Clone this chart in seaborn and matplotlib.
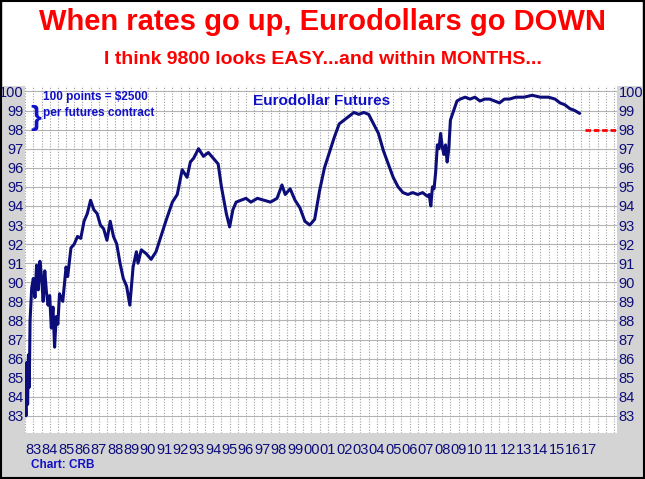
import matplotlib
matplotlib.use("Agg")
import matplotlib.pyplot as plt
import seaborn as sns
import pandas as pd
from matplotlib.patches import Rectangle

# approximate Eurodollar futures price
years = [1983.0, 1983.05, 1983.1, 1983.15, 1983.2, 1983.25, 1983.3, 1983.4, 1983.5, 1983.6, 1983.7,
         1983.8, 1983.9, 1984.0, 1984.1, 1984.2, 1984.3, 1984.4, 1984.5, 1984.6, 1984.7, 1984.8,
         1984.9, 1985.0, 1985.1, 1985.3, 1985.5, 1985.6, 1985.8, 1986.0, 1986.2, 1986.4, 1986.6,
         1986.8, 1987.0, 1987.2, 1987.4, 1987.6, 1987.8, 1988.0, 1988.2, 1988.4, 1988.6, 1988.8,
         1989.0, 1989.2, 1989.4, 1989.6, 1989.8, 1989.9, 1990.1, 1990.4, 1990.7, 1991.0, 1991.3,
         1991.6, 1992.0, 1992.3, 1992.6, 1992.9, 1993.1, 1993.3, 1993.6, 1993.9, 1994.2, 1994.5,
         1994.8, 1995.0, 1995.3, 1995.5, 1995.7, 1995.9, 1996.2, 1996.5, 1996.8, 1997.2, 1997.6,
         1998.0, 1998.4, 1998.7, 1998.9, 1999.2, 1999.5, 1999.8, 2000.1, 2000.4, 2000.7, 2001.0,
         2001.3, 2001.6, 2001.9, 2002.2, 2002.5, 2002.8, 2003.1, 2003.4, 2003.7, 2004.0, 2004.3,
         2004.6, 2004.9, 2005.2, 2005.5, 2005.8, 2006.1, 2006.4, 2006.7, 2007.0, 2007.3, 2007.6,
         2007.7, 2007.8, 2007.9, 2008.0, 2008.1, 2008.2, 2008.3, 2008.4, 2008.5, 2008.6, 2008.7,
         2008.8, 2008.9, 2009.0, 2009.2, 2009.4, 2009.6, 2009.9, 2010.2, 2010.5, 2010.8, 2011.1,
         2011.4, 2011.7, 2012.0, 2012.3, 2012.6, 2013.0, 2013.5, 2014.0, 2014.5, 2015.0, 2015.4,
         2015.7, 2016.0, 2016.3, 2016.6, 2016.9]
prices = [84.5, 83.0, 85.8, 83.6, 86.2, 84.5, 88.0, 89.7, 90.2, 89.2, 90.9,
          89.6, 91.1, 90.3, 89.0, 90.6, 89.5, 88.8, 89.3, 87.6, 88.7, 86.6,
          88.2, 87.8, 89.4, 89.0, 90.8, 90.3, 91.8, 92.0, 92.4, 92.3, 93.2,
          93.6, 94.3, 93.8, 93.6, 93.0, 92.8, 92.2, 93.2, 92.4, 92.0, 91.0,
          90.2, 89.8, 88.8, 90.8, 91.6, 91.0, 91.7, 91.5, 91.2, 91.6, 92.4,
          93.2, 94.2, 94.6, 95.9, 95.5, 96.3, 96.5, 97.0, 96.6, 96.8, 96.5,
          96.2, 95.0, 93.6, 92.9, 93.8, 94.2, 94.3, 94.4, 94.2, 94.4, 94.3,
          94.2, 94.4, 95.1, 94.6, 94.9, 94.3, 93.9, 93.2, 93.0, 93.3, 94.8,
          96.0, 96.8, 97.6, 98.3, 98.5, 98.7, 98.9, 98.8, 98.9, 98.8, 98.3,
          97.8, 96.9, 96.2, 95.5, 95.0, 94.7, 94.6, 94.7, 94.6, 94.7, 94.5,
          94.6, 94.0, 95.0, 94.9, 95.8, 97.2, 97.0, 97.8, 97.1, 96.7, 97.2,
          96.3, 97.0, 98.5, 99.0, 99.5, 99.6, 99.7, 99.6, 99.7, 99.5, 99.6,
          99.6, 99.5, 99.4, 99.6, 99.6, 99.7, 99.7, 99.8, 99.7, 99.7, 99.6,
          99.4, 99.3, 99.1, 99.0, 98.85]
target_years = [2017.2, 2019.2]
target_price = [98.0, 98.0]
tick_years = list(range(1983, 2018))
tick_labels = [f"{y % 100:02d}" for y in tick_years]
y_ticks = list(range(83, 101))

navy = "#0d0d7a"
sns.set_theme(style="white")
fig = plt.figure(figsize=(6.45, 4.79), dpi=100, facecolor="#d4d4d4")
fig.patches.append(Rectangle((0.004, 0.82), 0.992, 0.175, transform=fig.transFigure,
                             facecolor="white", edgecolor="none", zorder=0))
fig.patches.append(Rectangle((0.001, 0.002), 0.997, 0.996, transform=fig.transFigure,
                             facecolor="none", edgecolor="black", lw=1.5, zorder=5))
ax = fig.add_axes([0.039, 0.096, 0.918, 0.729])
ax.set_facecolor("white")

df = pd.DataFrame({"year": years, "price": prices})
sns.lineplot(data=df, x="year", y="price", ax=ax, color=navy, lw=2.2)
ax.plot(target_years, target_price, color="red", lw=2, ls=(0, (2, 1)))

ax.set_xlim(1983.0, 2019.2)
ax.set_ylim(82.1, 100.4)
ax.set_yticks(y_ticks)
for y in y_ticks:
    ax.axhline(y, color="#b4b4b4", lw=0.8, zorder=0)
x = 1983.0
while x < 2019.2:
    ax.axvline(x, color="#a0a0a0", lw=0.8, ls=(0, (1, 1.5)), zorder=0)
    x += 0.5
ax.set_xticks([y + 0.5 for y in tick_years])
ax.set_xticklabels(tick_labels, fontfamily="Liberation Sans")
ax.tick_params(axis="x", length=0, pad=7, labelsize=10.5, labelcolor=navy)
ax.set_yticklabels([str(v) for v in y_ticks], fontfamily="Liberation Sans")
ax.tick_params(axis="y", length=0, labelsize=10.5, labelcolor=navy, labelleft=True,
               labelright=True, pad=1)
ax.set_xlabel("")
ax.set_ylabel("")
for s in ax.spines.values():
    s.set_visible(False)

ax.text(0.5, 0.97, "Eurodollar Futures", transform=ax.transAxes, ha="center", va="top",
        color="#1010c8", fontsize=11, fontweight="bold", family="Liberation Sans")
ax.text(1983.3, 98.6, "}", color="#1010c8", fontsize=20, fontweight="bold", va="center",
        family="Liberation Sans")
ax.text(1984.1, 99.3, "100 points = $2500\nper futures contract", color="#1010c8",
        fontsize=8.5, fontweight="bold", va="center", linespacing=1.4, family="Liberation Sans")

fig.text(0.5, 0.955, "When rates go up, Eurodollars go DOWN", ha="center", va="center",
         color="red", fontsize=21, fontweight="bold", family="Liberation Sans")
fig.text(0.5, 0.875, "I think 9800 looks EASY...and within MONTHS...", ha="center", va="center",
         color="red", fontsize=14, fontweight="bold", family="Liberation Sans")
fig.text(0.048, 0.022, "Chart: CRB", color="#1010c8", fontsize=8.5, fontweight="bold",
         family="Liberation Sans")

fig.savefig("out.png", dpi=100, facecolor=fig.get_facecolor())
